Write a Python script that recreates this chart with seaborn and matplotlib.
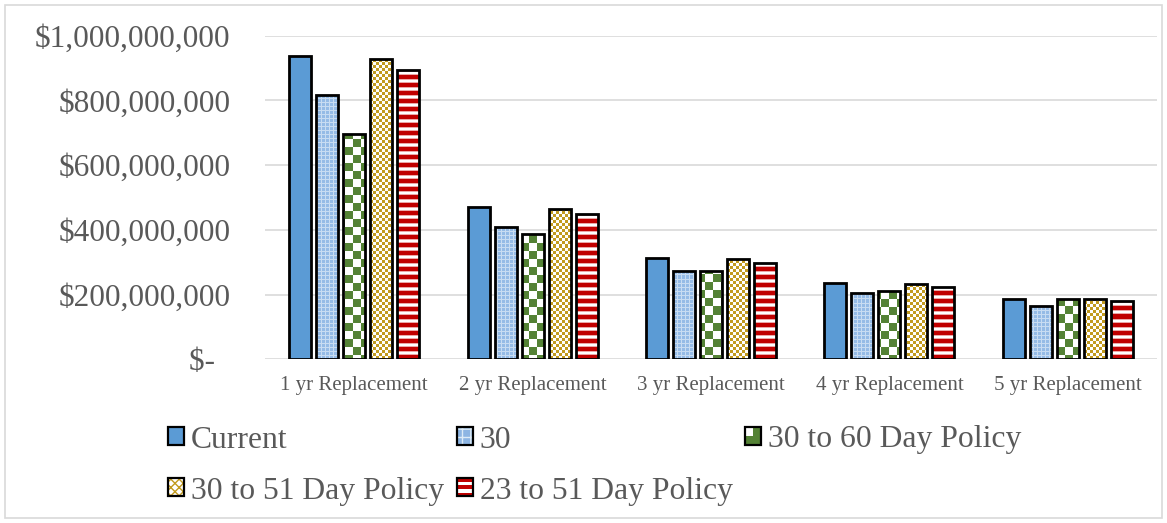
import numpy as np
import pandas as pd
import matplotlib
matplotlib.use("Agg")
import matplotlib.pyplot as plt
import seaborn as sns
from matplotlib.colors import to_rgb
from matplotlib.patches import Rectangle
from matplotlib.legend_handler import HandlerBase
from matplotlib.ticker import FuncFormatter

# values (dollars)
categories = ["1 yr Replacement", "2 yr Replacement", "3 yr Replacement",
              "4 yr Replacement", "5 yr Replacement"]
policies = ["Current", "30", "30 to 60 Day Policy", "30 to 51 Day Policy",
            "23 to 51 Day Policy"]
current = [938e6, 470e6, 312e6, 236e6, 187e6]
p30 = [816e6, 409e6, 273e6, 205e6, 164e6]
p30_60 = [697e6, 388e6, 272e6, 210e6, 186e6]
p30_51 = [927e6, 464e6, 309e6, 233e6, 186e6]
p23_51 = [895e6, 448e6, 299e6, 224e6, 180e6]
yticks = [0, 200e6, 400e6, 600e6, 800e6, 1000e6]

fills = {"Current": "solid", "30": "grid", "30 to 60 Day Policy": "checker",
         "30 to 51 Day Policy": "gold", "23 to 51 Day Policy": "stripes"}
GREY = "#595959"


def make_texture(kind, h, w):
    yy, xx = np.mgrid[0:h, 0:w]
    img = np.ones((h, w, 3))
    if kind == "grid":
        img[:] = to_rgb("#95BBE6")
        img[(xx % 4 == 0) | (yy % 4 == 0)] = to_rgb("#C8DCF2")
    elif kind == "checker":
        img[((xx // 8) + (yy // 8)) % 2 == 0] = to_rgb("#548235")
    elif kind == "gold":
        img[((xx // 3) + (yy // 3)) % 2 == 0] = to_rgb("#C29B1F")
    elif kind == "stripes":
        r = yy % 8
        img[r < 4] = to_rgb("#C00000")
        img[(r == 4) | (r == 7)] = to_rgb("#EBA8A8")
    return img


class Swatch:
    def __init__(self, kind):
        self.kind = kind


class SwatchHandler(HandlerBase):
    def create_artists(self, legend, orig_handle, xdescent, ydescent,
                       width, height, fontsize, trans):
        x0, y0 = -xdescent, -ydescent
        kind = orig_handle.kind
        arts = []
        if kind == "solid":
            arts.append(Rectangle((x0, y0), width, height, facecolor="#5B9BD5",
                                  lw=0, transform=trans))
        elif kind == "grid":
            arts.append(Rectangle((x0, y0), width, height, facecolor="#8DB5E3",
                                  edgecolor="#DDEBF7", hatch="++", lw=0,
                                  transform=trans))
        elif kind == "checker":
            arts.append(Rectangle((x0, y0), width, height, facecolor="#548235",
                                  lw=0, transform=trans))
            arts.append(Rectangle((x0, y0 + height / 2), width / 2, height / 2,
                                  facecolor="white", lw=0, transform=trans))
        elif kind == "gold":
            arts.append(Rectangle((x0, y0), width, height, facecolor="white",
                                  edgecolor="#C29B1F", hatch="xxxx", lw=0,
                                  transform=trans))
        elif kind == "stripes":
            arts.append(Rectangle((x0, y0), width, height, facecolor="white",
                                  lw=0, transform=trans))
            for f in (0.0, 0.4, 0.8):
                arts.append(Rectangle((x0, y0 + f * height), width, 0.2 * height,
                                      facecolor="#C00000", lw=0, transform=trans))
        arts.append(Rectangle((x0, y0), width, height, fill=False,
                              edgecolor="black", lw=1.6, transform=trans))
        return arts


sns.set_style("white")
plt.rcParams["font.family"] = ["Liberation Serif", "DejaVu Serif"]

df = pd.DataFrame({
    "category": np.tile(categories, len(policies)),
    "policy": np.repeat(policies, len(categories)),
    "cost": np.concatenate([current, p30, p30_60, p30_51, p23_51]),
})

W, H = 1167, 523
fig = plt.figure(figsize=(W / 100, H / 100), dpi=100)
ax = fig.add_axes([265 / W, (H - 359.3) / H, 892 / W, 323.6 / H])

palette = {"Current": "#5B9BD5", "30": "#8DB5E3", "30 to 60 Day Policy": "#548235",
           "30 to 51 Day Policy": "#C29B1F", "23 to 51 Day Policy": "#C00000"}
sns.barplot(data=df, x="category", y="cost", hue="policy", order=categories,
            hue_order=policies, palette=palette, saturation=1, width=0.757,
            gap=0.19, edgecolor="black", linewidth=2.0, legend=False, ax=ax)

xlim = (-0.5, len(categories) - 0.5)
ylim = (0, 1e9)
ax.set_xlim(xlim)
ax.set_ylim(ylim)

bb = ax.get_window_extent()
th, tw = int(round(bb.height)), int(round(bb.width))
for cont, pol in zip(ax.containers, policies):
    kind = fills[pol]
    if kind == "solid":
        continue
    tex = make_texture(kind, th, tw)
    for bar in cont:
        bar.set_facecolor("none")
        im = ax.imshow(tex, extent=(xlim[0], xlim[1], ylim[0], ylim[1]),
                       origin="upper", aspect="auto", interpolation="nearest",
                       zorder=0.8)
        im.set_clip_path(bar)
ax.set_xlim(xlim)
ax.set_ylim(ylim)

ax.set_yticks(yticks)
ax.yaxis.set_major_formatter(FuncFormatter(
    lambda v, p: f"${v:,.0f}" if v > 0 else "$-  "))
ax.grid(axis="y", color="#D9D9D9", lw=1.2)
ax.grid(axis="x", visible=False)
ax.set_axisbelow(True)
for s in ax.spines.values():
    s.set_visible(False)
ax.tick_params(axis="y", length=0, pad=25, labelsize=22.5, labelcolor=GREY)
ax.tick_params(axis="x", length=0, pad=12, labelsize=15, labelcolor=GREY)
ax.set_xlabel("")
ax.set_ylabel("")

# legend laid out like the Excel grid: three fixed columns, two rows
col_x = [168, 457, 745]
row_y = [440, 491]
for i, pol in enumerate(policies):
    cx, ry = col_x[i % 3], row_y[i // 3]
    fig.legend([Swatch(fills[pol])], [pol], handler_map={Swatch: SwatchHandler()},
               loc="center left", bbox_to_anchor=(cx / W, 1 - ry / H),
               frameon=False, borderpad=0, borderaxespad=0, fontsize=22.8,
               handlelength=0.5, handleheight=0.5, handletextpad=0.22,
               labelcolor=GREY)

fig.add_artist(Rectangle((5 / W, 5 / H), (W - 10) / W, (H - 10) / H, fill=False,
                         edgecolor="#D9D9D9", lw=1.2, transform=fig.transFigure))

fig.savefig("out.png", dpi=100, facecolor="white")
